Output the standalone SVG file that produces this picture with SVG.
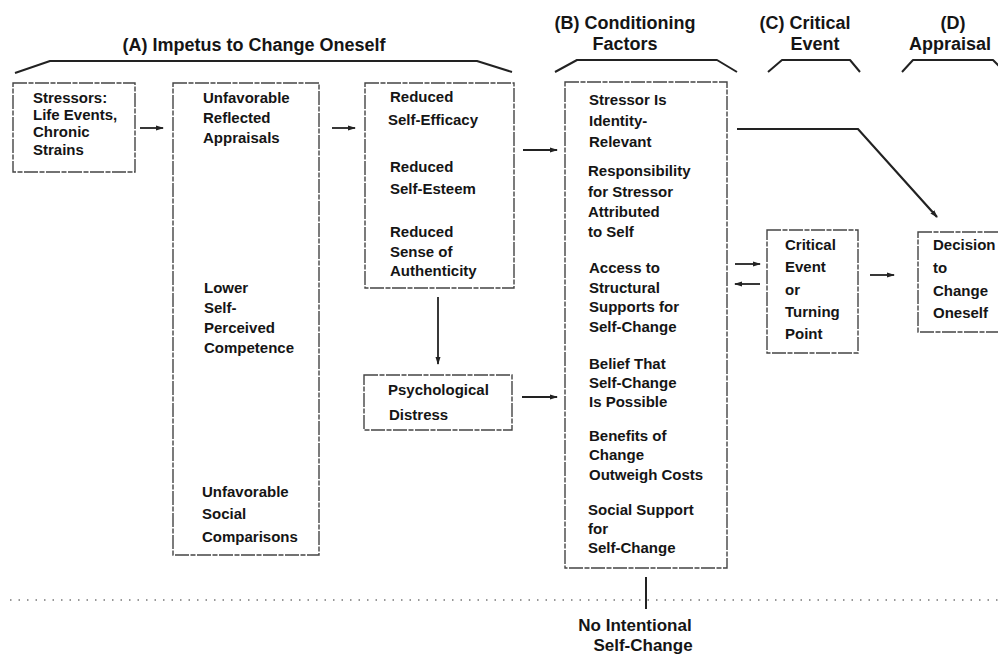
<svg xmlns="http://www.w3.org/2000/svg" width="998" height="657" viewBox="0 0 998 657">
<style>
  .bg{fill:#ffffff}
  .box{fill:none;stroke:#444;stroke-width:1.4;stroke-dasharray:14 1.5 5 1.5}
  .t{font-family:"Liberation Sans",Arial,sans-serif;font-weight:bold;font-size:15px;fill:#151515}
  .h{font-family:"Liberation Sans",Arial,sans-serif;font-weight:bold;font-size:18px;fill:#151515;text-anchor:middle}
  .b{font-family:"Liberation Sans",Arial,sans-serif;font-weight:bold;font-size:17px;fill:#151515;text-anchor:middle}
  .br{fill:none;stroke:#222;stroke-width:2;stroke-linejoin:round}
  .ar{fill:none;stroke:#222;stroke-width:1.8;marker-end:url(#ah)}
  .ln{fill:none;stroke:#222;stroke-width:2}
  .dot{fill:none;stroke:#777;stroke-width:1.6;stroke-dasharray:1.5 7}
</style>
<defs>
  <marker id="ah" markerUnits="userSpaceOnUse" markerWidth="8" markerHeight="6" refX="7" refY="3" orient="auto">
    <path d="M0,0.5 L8,3 L0,5.5 Z" fill="#222"/>
  </marker>
</defs>
<rect class="bg" x="0" y="0" width="998" height="657"/>

<g id="headers">
  <text class="h" x="254" y="51">(A) Impetus to Change Oneself</text>
  <path class="br" d="M15,73 L50,61 L477,61 L512,72"/>
  <text class="h" x="625" y="29">(B) Conditioning</text>
  <text class="h" x="625" y="50">Factors</text>
  <path class="br" d="M555,72 L577,60 L717,60 L737,72"/>
  <text class="h" x="805" y="29">(C) Critical</text>
  <text class="h" x="815" y="50">Event</text>
  <path class="br" d="M768,72 L782,60 L850,60 L860,72"/>
  <text class="h" x="953" y="29">(D)</text>
  <text class="h" x="950" y="50">Appraisal</text>
  <path class="br" d="M902,72 L913,60 L993,60 L1003,70"/>
</g>

<g id="stressors">
  <rect class="box" x="13" y="83" width="122" height="89"/>
  <text class="t" x="33" y="103">Stressors:</text>
  <text class="t" x="33" y="120">Life Events,</text>
  <text class="t" x="33" y="137">Chronic</text>
  <text class="t" x="33" y="155">Strains</text>
</g>

<g id="appraisals">
  <rect class="box" x="173" y="83" width="146" height="472"/>
  <text class="t" x="203" y="103">Unfavorable</text>
  <text class="t" x="203" y="123">Reflected</text>
  <text class="t" x="203" y="143">Appraisals</text>
  <text class="t" x="204" y="293">Lower</text>
  <text class="t" x="204" y="313">Self-</text>
  <text class="t" x="204" y="333">Perceived</text>
  <text class="t" x="204" y="353">Competence</text>
  <text class="t" x="202" y="497">Unfavorable</text>
  <text class="t" x="202" y="519">Social</text>
  <text class="t" x="202" y="542">Comparisons</text>
</g>

<g id="reduced">
  <rect class="box" x="365" y="83" width="149" height="205"/>
  <text class="t" x="390" y="102">Reduced</text>
  <text class="t" x="388" y="125">Self-Efficacy</text>
  <text class="t" x="390" y="172">Reduced</text>
  <text class="t" x="390" y="194">Self-Esteem</text>
  <text class="t" x="390" y="237">Reduced</text>
  <text class="t" x="390" y="257">Sense of</text>
  <text class="t" x="390" y="276">Authenticity</text>
</g>

<g id="distress">
  <rect class="box" x="364" y="375" width="148" height="55"/>
  <text class="t" x="388" y="395">Psychological</text>
  <text class="t" x="389" y="420">Distress</text>
</g>

<g id="conditioning">
  <rect class="box" x="565" y="82" width="162" height="486"/>
  <text class="t" x="589" y="105">Stressor Is</text>
  <text class="t" x="589" y="126">Identity-</text>
  <text class="t" x="589" y="147">Relevant</text>
  <text class="t" x="588" y="176">Responsibility</text>
  <text class="t" x="588" y="197">for Stressor</text>
  <text class="t" x="588" y="217">Attributed</text>
  <text class="t" x="588" y="237">to Self</text>
  <text class="t" x="589" y="273">Access to</text>
  <text class="t" x="589" y="293">Structural</text>
  <text class="t" x="589" y="312">Supports for</text>
  <text class="t" x="589" y="332">Self-Change</text>
  <text class="t" x="589" y="369">Belief That</text>
  <text class="t" x="589" y="388">Self-Change</text>
  <text class="t" x="589" y="407">Is Possible</text>
  <text class="t" x="589" y="441">Benefits of</text>
  <text class="t" x="589" y="460">Change</text>
  <text class="t" x="589" y="480">Outweigh Costs</text>
  <text class="t" x="588" y="515">Social Support</text>
  <text class="t" x="588" y="534">for</text>
  <text class="t" x="588" y="553">Self-Change</text>
</g>

<g id="critical">
  <rect class="box" x="767" y="230" width="91" height="123"/>
  <text class="t" x="785" y="250">Critical</text>
  <text class="t" x="785" y="272">Event</text>
  <text class="t" x="785" y="295">or</text>
  <text class="t" x="785" y="317">Turning</text>
  <text class="t" x="785" y="339">Point</text>
</g>

<g id="decision">
  <rect class="box" x="918" y="232" width="90" height="100"/>
  <text class="t" x="933" y="250">Decision</text>
  <text class="t" x="933" y="273">to</text>
  <text class="t" x="933" y="296">Change</text>
  <text class="t" x="933" y="318">Oneself</text>
</g>

<g id="no-change">
  <text class="b" x="635" y="631">No Intentional</text>
  <text class="b" x="643" y="651">Self-Change</text>
</g>

<g id="connectors">
  <line class="ar" x1="140" y1="128" x2="163" y2="128"/>
  <line class="ar" x1="332" y1="128" x2="355" y2="128"/>
  <line class="ar" x1="523" y1="150" x2="557" y2="150"/>
  <line class="ar" x1="438" y1="297" x2="438" y2="364"/>
  <line class="ar" x1="522" y1="397" x2="557" y2="397"/>
  <polyline class="ar" points="737,129 858,129 937,217" style="stroke-width:2.2"/>
  <line class="ar" x1="735" y1="264" x2="760" y2="264"/>
  <line class="ar" x1="760" y1="284" x2="735" y2="284"/>
  <line class="ar" x1="870" y1="275" x2="894" y2="275"/>
  <line class="dot" x1="10" y1="600" x2="998" y2="600"/>
  <line class="ln" x1="646" y1="577" x2="646" y2="609"/>
</g>
</svg>
